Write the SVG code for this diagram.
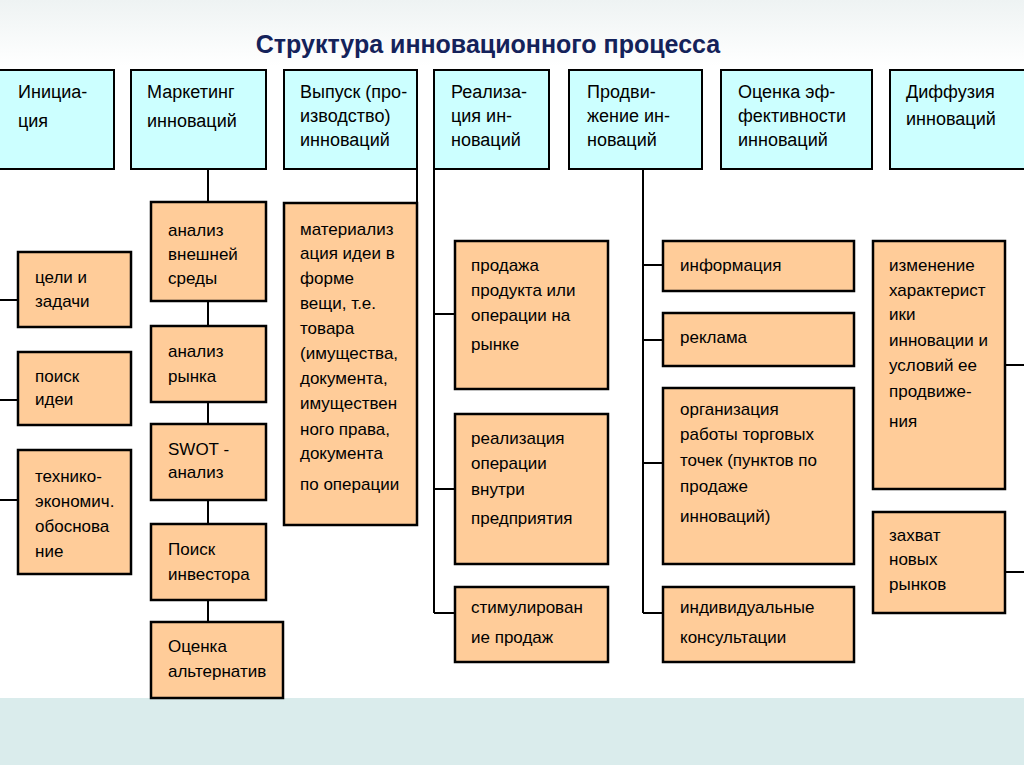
<svg xmlns="http://www.w3.org/2000/svg" width="1024" height="767" viewBox="0 0 1024 767">
<defs>
<linearGradient id="bg" x1="0" y1="0" x2="0" y2="1">
<stop offset="0" stop-color="#eef3f3"/>
<stop offset="1" stop-color="#ffffff"/>
</linearGradient>
<style>
.hd{fill:#ccffff;stroke:#000;stroke-width:2}
.bx{fill:#ffcc99;stroke:#000;stroke-width:2.5}
.ln{fill:none;stroke:#000;stroke-width:2}
.ht{font-family:"Liberation Sans",Arial,sans-serif;font-size:18px;fill:#000}
.bt{font-family:"Liberation Sans",Arial,sans-serif;font-size:17px;fill:#000}
.title{font-family:"Liberation Sans",Arial,sans-serif;font-size:25px;font-weight:bold;fill:#14225a}
</style>
</defs>
<rect x="0" y="0" width="1024" height="767" fill="#ffffff"/>
<rect x="0" y="0" width="1024" height="66" fill="url(#bg)"/>
<rect x="0" y="698" width="1024" height="67" fill="#daecec"/>
<text class="title" x="488" y="53" text-anchor="middle">Структура инновационного процесса</text>

<g id="connectors" class="ln">
<path class="ln" d="M-1 169V500M0 300H18M0 400H18M0 500H18"/>
<path class="ln" d="M208 169V622"/>
<path class="ln" d="M417 169V203"/>
<path class="ln" d="M434 169V613M434 314H455M434 489H455M434 613H455"/>
<path class="ln" d="M643 169V613M643 265H663M643 340H663M643 463H663M643 613H663"/>
<path class="ln" d="M1025 169V572M1005 365H1025M1005 572H1025"/>
</g>

<g id="h-initiation"><rect class="hd" x="-2" y="70" width="116" height="99"/>
<text class="ht" x="18" y="98">Инициа-</text><text class="ht" x="18" y="127">ция</text></g>
<g id="h-marketing"><rect class="hd" x="131" y="70" width="135" height="99"/>
<text class="ht" x="147" y="98">Маркетинг</text><text class="ht" x="147" y="127">инноваций</text></g>
<g id="h-output"><rect class="hd" x="284" y="70" width="133" height="99"/>
<text class="ht" x="300" y="98">Выпуск (про-</text><text class="ht" x="300" y="122">изводство)</text><text class="ht" x="300" y="146">инноваций</text></g>
<g id="h-realization"><rect class="hd" x="434" y="70" width="115" height="99"/>
<text class="ht" x="451" y="98">Реализа-</text><text class="ht" x="451" y="122">ция ин-</text><text class="ht" x="451" y="146">новаций</text></g>
<g id="h-promotion"><rect class="hd" x="569" y="70" width="133" height="99"/>
<text class="ht" x="587" y="98">Продви-</text><text class="ht" x="587" y="122">жение ин-</text><text class="ht" x="587" y="146">новаций</text></g>
<g id="h-evaluation"><rect class="hd" x="721" y="70" width="151" height="99"/>
<text class="ht" x="738" y="98">Оценка эф-</text><text class="ht" x="738" y="122">фективности</text><text class="ht" x="738" y="146">инноваций</text></g>
<g id="h-diffusion"><rect class="hd" x="890" y="70" width="140" height="99"/>
<text class="ht" x="906" y="98">Диффузия</text><text class="ht" x="906" y="125">инноваций</text></g>

<g id="n-goals"><rect class="bx" x="18" y="252" width="113" height="75"/>
<text class="bt" x="35" y="283">цели и</text><text class="bt" x="35" y="307">задачи</text></g>
<g id="n-idea"><rect class="bx" x="18" y="352" width="113" height="73"/>
<text class="bt" x="35" y="382">поиск</text><text class="bt" x="35" y="405">идеи</text></g>
<g id="n-feasibility"><rect class="bx" x="18" y="450" width="113" height="124"/>
<text class="bt" x="35" y="482">технико-</text><text class="bt" x="35" y="507">экономич.</text><text class="bt" x="35" y="532">обоснова</text><text class="bt" x="35" y="557">ние</text></g>

<g id="n-env"><rect class="bx" x="151" y="202" width="115" height="99"/>
<text class="bt" x="168" y="236">анализ</text><text class="bt" x="168" y="260">внешней</text><text class="bt" x="168" y="284">среды</text></g>
<g id="n-market"><rect class="bx" x="151" y="326" width="115" height="76"/>
<text class="bt" x="168" y="357">анализ</text><text class="bt" x="168" y="382">рынка</text></g>
<g id="n-swot"><rect class="bx" x="151" y="424" width="115" height="76"/>
<text class="bt" x="168" y="455">SWOT -</text><text class="bt" x="168" y="478">анализ</text></g>
<g id="n-investor"><rect class="bx" x="151" y="524" width="115" height="76"/>
<text class="bt" x="168" y="555">Поиск</text><text class="bt" x="168" y="580">инвестора</text></g>
<g id="n-alternatives"><rect class="bx" x="151" y="622" width="132" height="76"/>
<text class="bt" x="168" y="652">Оценка</text><text class="bt" x="168" y="677">альтернатив</text></g>

<g id="n-materialization"><rect class="bx" x="284" y="203" width="133" height="322"/>
<text class="bt" x="300" y="235">материализ</text><text class="bt" x="300" y="259">ация идеи в</text><text class="bt" x="300" y="284">форме</text><text class="bt" x="300" y="309">вещи, т.е.</text><text class="bt" x="300" y="334">товара</text><text class="bt" x="300" y="359">(имущества,</text><text class="bt" x="300" y="384">документа,</text><text class="bt" x="300" y="409">имуществен</text><text class="bt" x="300" y="435">ного права,</text><text class="bt" x="300" y="459">документа</text><text class="bt" x="300" y="490">по операции</text></g>

<g id="n-sale"><rect class="bx" x="455" y="241" width="153" height="148"/>
<text class="bt" x="471" y="271">продажа</text><text class="bt" x="471" y="296">продукта или</text><text class="bt" x="471" y="321">операции на</text><text class="bt" x="471" y="350">рынке</text></g>
<g id="n-internal"><rect class="bx" x="455" y="414" width="153" height="150"/>
<text class="bt" x="471" y="444">реализация</text><text class="bt" x="471" y="469">операции</text><text class="bt" x="471" y="495">внутри</text><text class="bt" x="471" y="524">предприятия</text></g>
<g id="n-stimulation"><rect class="bx" x="455" y="587" width="153" height="75"/>
<text class="bt" x="471" y="613">стимулирован</text><text class="bt" x="471" y="643">ие продаж</text></g>

<g id="n-information"><rect class="bx" x="663" y="241" width="191" height="50"/>
<text class="bt" x="680" y="271">информация</text></g>
<g id="n-advertising"><rect class="bx" x="663" y="313" width="191" height="53"/>
<text class="bt" x="680" y="343">реклама</text></g>
<g id="n-outlets"><rect class="bx" x="663" y="388" width="191" height="176"/>
<text class="bt" x="680" y="415">организация</text><text class="bt" x="680" y="440">работы торговых</text><text class="bt" x="680" y="466">точек (пунктов по</text><text class="bt" x="680" y="492">продаже</text><text class="bt" x="680" y="522">инноваций)</text></g>
<g id="n-consult"><rect class="bx" x="663" y="587" width="191" height="75"/>
<text class="bt" x="680" y="613">индивидуальные</text><text class="bt" x="680" y="643">консультации</text></g>

<g id="n-change"><rect class="bx" x="873" y="241" width="132" height="248"/>
<text class="bt" x="889" y="271">изменение</text><text class="bt" x="889" y="296">характерист</text><text class="bt" x="889" y="320">ики</text><text class="bt" x="889" y="346">инновации и</text><text class="bt" x="889" y="371">условий ее</text><text class="bt" x="889" y="397">продвиже-</text><text class="bt" x="889" y="427">ния</text></g>
<g id="n-newmarkets"><rect class="bx" x="873" y="512" width="132" height="101"/>
<text class="bt" x="889" y="541">захват</text><text class="bt" x="889" y="565">новых</text><text class="bt" x="889" y="590">рынков</text></g>
</svg>
